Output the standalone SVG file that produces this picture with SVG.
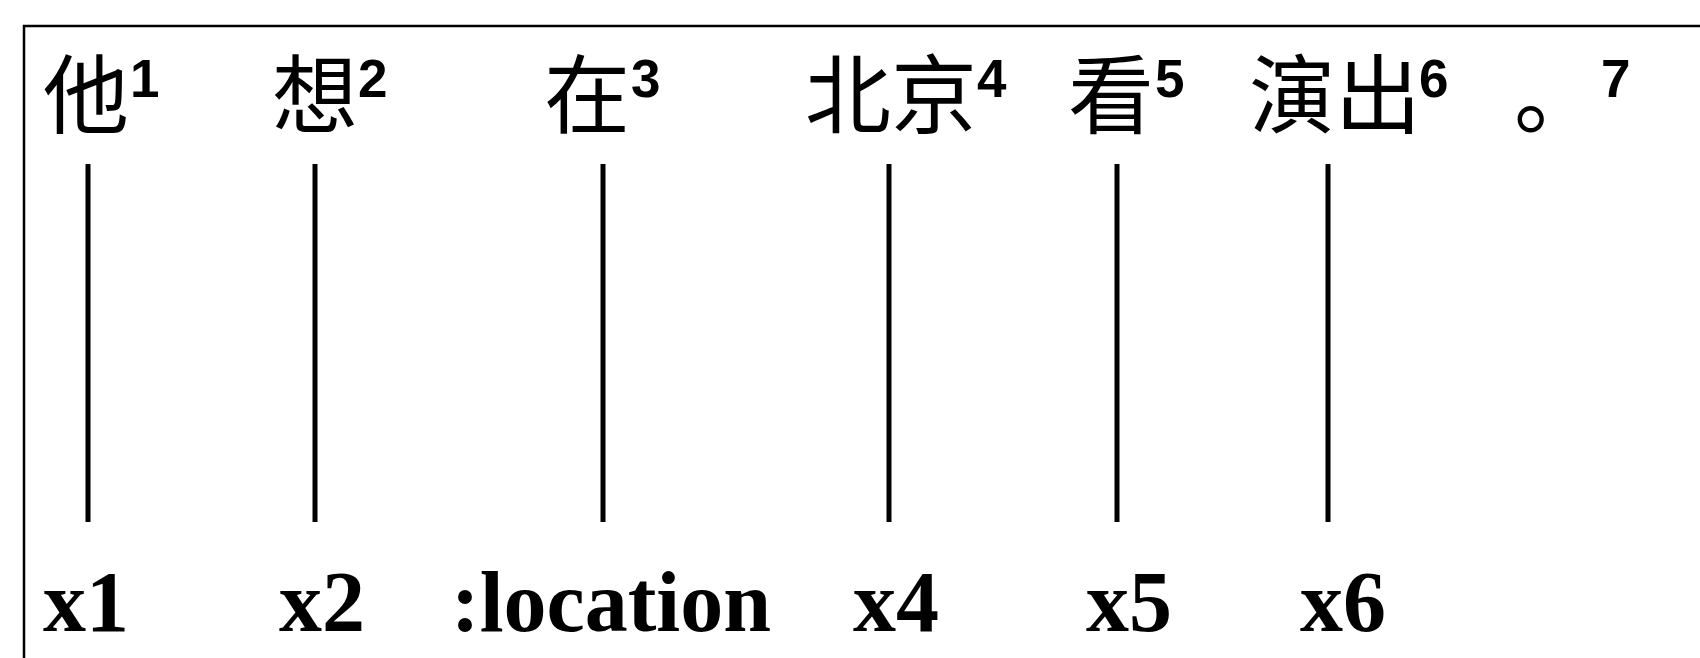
<svg xmlns="http://www.w3.org/2000/svg" width="1700" height="658" viewBox="0 0 1700 658">
<style>
.zh{font-family:"Noto Sans CJK SC","Noto Sans CJK JP",sans-serif;font-size:86px;fill:#000}
.sup{font-family:"Liberation Sans",Arial,sans-serif;font-weight:bold;font-size:53px;fill:#000}
.lab{font-family:"Liberation Serif","Times New Roman",serif;font-weight:bold;font-size:86px;fill:#000}
.ln{stroke:#000;stroke-width:5;fill:none}
</style>
<rect width="1700" height="658" fill="#fff"/>
<path d="M24,658 V26 H1700" fill="none" stroke="#000" stroke-width="2.5"/>
<g id="n1"><text class="zh" x="43" y="127">他</text><text class="sup" x="130" y="97">1</text><text class="lab" x="43" y="631">x1</text></g>
<g id="n2"><text class="zh" x="272" y="127">想</text><text class="sup" x="358" y="97">2</text><text class="lab" x="279" y="631">x2</text></g>
<g id="n3"><text class="zh" x="544" y="127">在</text><text class="sup" x="631" y="97">3</text><text class="lab" x="451" y="631">:location</text></g>
<g id="n4"><text class="zh" x="805" y="127">北京</text><text class="sup" x="977" y="97">4</text><text class="lab" x="853" y="631">x4</text></g>
<g id="n5"><text class="zh" x="1068" y="127">看</text><text class="sup" x="1155" y="97">5</text><text class="lab" x="1086" y="631">x5</text></g>
<g id="n6"><text class="zh" x="1249" y="127">演出</text><text class="sup" x="1419" y="97">6</text><text class="lab" x="1300" y="631">x6</text></g>
<g id="n7"><text class="zh" x="1514" y="127">。</text><text class="sup" x="1601" y="97">7</text></g>
<g id="connectors">
<line class="ln" x1="88" y1="164" x2="88" y2="522"/>
<line class="ln" x1="315" y1="164" x2="315" y2="522"/>
<line class="ln" x1="603" y1="164" x2="603" y2="522"/>
<line class="ln" x1="889" y1="164" x2="889" y2="522"/>
<line class="ln" x1="1117" y1="164" x2="1117" y2="522"/>
<line class="ln" x1="1328" y1="164" x2="1328" y2="522"/>
</g>
</svg>
